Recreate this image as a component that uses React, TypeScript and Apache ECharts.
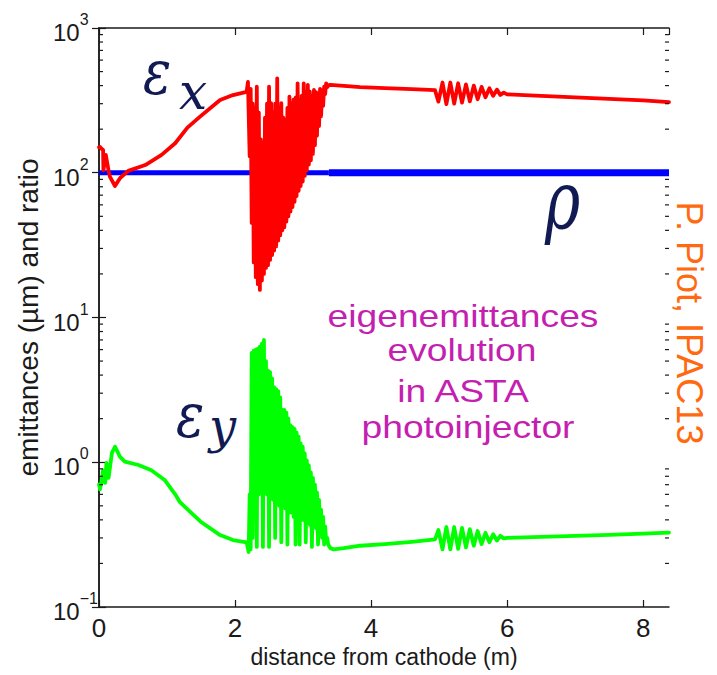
import React, { useEffect, useRef } from 'react';
import * as echarts from 'echarts';

const X_MAX = 8.38;
const Y_MIN = 0.1;
const Y_MAX = 1000;
const X_TICK_STEP = 2;
const MINOR_MANTISSAS = [2, 3, 4, 5, 6, 7, 8, 9];
const MINOR_DECADES = [0.1, 1, 10, 100];

// rho (ratio) — thin part and thick part
const rhoThin: number[][] = [[0, 100], [1.5, 100], [3.38, 100]];
const rhoThick: number[][] = [[3.38, 100], [6, 100], [8.38, 100]];

// epsilon_x (red)
const epsXStart: number[][] = [
  [0.0, 150], [0.015, 151], [0.04, 146], [0.06, 144], [0.065, 104], [0.1, 133], [0.14, 104],
  [0.16, 94], [0.235, 81], [0.31, 92], [0.43, 103], [0.68, 113], [0.92, 133], [1.12, 160],
  [1.3, 205], [1.49, 245], [1.78, 318], [1.97, 344], [2.17, 362], [2.19, 424],
];
const epsXOsc: number[][] = [
  [2.215, 130], [2.23, 380], [2.245, 45], [2.26, 300], [2.275, 24], [2.29, 280], [2.305, 19],
  [2.32, 393], [2.335, 17], [2.35, 260], [2.365, 15.5], [2.38, 170], [2.395, 18], [2.41, 160],
  [2.425, 20], [2.44, 240], [2.455, 22], [2.47, 300], [2.485, 23], [2.5, 393], [2.515, 25],
  [2.53, 302], [2.545, 27], [2.56, 260], [2.575, 29], [2.59, 300], [2.605, 31], [2.62, 449],
  [2.635, 34], [2.65, 280], [2.665, 37], [2.68, 302], [2.695, 40], [2.71, 240], [2.725, 42],
  [2.74, 231], [2.755, 46], [2.77, 280], [2.785, 50], [2.8, 336], [2.815, 54], [2.83, 300],
  [2.845, 58], [2.86, 320], [2.875, 63], [2.89, 330], [2.905, 69], [2.92, 415], [2.935, 75],
  [2.95, 318], [2.965, 81], [2.98, 340], [2.995, 87], [3.01, 415], [3.025, 95], [3.04, 360],
  [3.055, 104], [3.07, 404], [3.085, 114], [3.1, 363], [3.115, 122], [3.13, 340], [3.145, 135],
  [3.16, 373], [3.175, 155], [3.19, 360], [3.205, 180], [3.22, 354], [3.235, 210], [3.25, 380],
  [3.265, 245], [3.28, 370], [3.295, 290], [3.31, 393], [3.325, 350], [3.34, 415], [3.355, 390],
  [3.37, 400],
];
const epsXEnd: number[][] = [
  [3.4, 405], [3.6, 398], [3.84, 390], [4.2, 384], [4.6, 378], [4.94, 372], [4.99, 310],
  [5.05, 420], [5.107, 298], [5.165, 420], [5.222, 300], [5.28, 415], [5.337, 305], [5.395, 408],
  [5.452, 312], [5.51, 400], [5.567, 322], [5.625, 392], [5.682, 332], [5.74, 383], [5.795, 340],
  [5.85, 375], [5.9, 345], [5.95, 358], [6.0, 348], [6.5, 340], [7.0, 332], [7.5, 324],
  [8.0, 316], [8.38, 308],
];

// epsilon_y (green)
const epsYStart: number[][] = [
  [0.0, 0.7], [0.015, 0.65], [0.04, 0.75], [0.06, 0.88], [0.09, 0.72], [0.11, 0.99], [0.14, 0.78],
  [0.19, 1.16], [0.235, 1.28], [0.31, 1.09], [0.38, 1.01], [0.58, 0.957], [0.77, 0.88],
  [0.97, 0.75], [1.12, 0.6], [1.19, 0.53], [1.49, 0.39], [1.78, 0.314], [1.97, 0.29],
  [2.17, 0.28], [2.2, 0.24],
];
const epsYOsc: number[][] = [
  [2.215, 0.6], [2.23, 0.25], [2.245, 5.7], [2.26, 0.3], [2.275, 5.9], [2.29, 0.45], [2.305, 6.0],
  [2.32, 0.26], [2.335, 6.1], [2.35, 0.6], [2.365, 6.3], [2.38, 0.7], [2.395, 6.6], [2.41, 0.26],
  [2.425, 7.0], [2.44, 0.65], [2.455, 5.0], [2.47, 0.6], [2.485, 4.3], [2.5, 0.26], [2.515, 4.2],
  [2.53, 0.6], [2.545, 3.8], [2.56, 0.55], [2.575, 3.3], [2.59, 0.3], [2.605, 3.2], [2.62, 0.55],
  [2.635, 3.1], [2.65, 0.5], [2.665, 2.8], [2.68, 0.28], [2.695, 2.3], [2.71, 0.5], [2.725, 2.3],
  [2.74, 0.48], [2.755, 2.2], [2.77, 0.27], [2.785, 2.0], [2.8, 0.45], [2.815, 1.8], [2.83, 0.45],
  [2.845, 1.75], [2.86, 0.42], [2.875, 1.7], [2.89, 0.27], [2.905, 1.6], [2.92, 0.42], [2.935, 1.5],
  [2.95, 0.27], [2.965, 1.35], [2.98, 0.4], [2.995, 1.28], [3.01, 0.4], [3.025, 1.15], [3.04, 0.28],
  [3.055, 1.03], [3.07, 0.38], [3.085, 0.95], [3.1, 0.37], [3.115, 0.85], [3.13, 0.26],
  [3.145, 0.78], [3.16, 0.36], [3.175, 0.7], [3.19, 0.35], [3.205, 0.62], [3.22, 0.27],
  [3.235, 0.55], [3.25, 0.33], [3.265, 0.47], [3.28, 0.3], [3.295, 0.42], [3.31, 0.27],
  [3.325, 0.36], [3.34, 0.28], [3.355, 0.3], [3.37, 0.27],
];
const epsYEnd: number[][] = [
  [3.4, 0.255], [3.45, 0.25], [3.6, 0.255], [3.84, 0.265], [4.2, 0.272], [4.6, 0.282],
  [4.94, 0.293], [4.99, 0.34], [5.05, 0.25], [5.107, 0.357], [5.165, 0.25], [5.222, 0.357],
  [5.28, 0.252], [5.337, 0.352], [5.395, 0.258], [5.452, 0.345], [5.51, 0.265], [5.567, 0.335],
  [5.625, 0.272], [5.682, 0.325], [5.74, 0.28], [5.795, 0.318], [5.85, 0.288], [5.9, 0.31],
  [5.95, 0.298], [6.0, 0.3], [6.5, 0.305], [7.0, 0.31], [7.5, 0.315], [8.0, 0.321], [8.38, 0.326],
];

const epsX = [...epsXStart, ...epsXOsc, ...epsXEnd];
const epsY = [...epsYStart, ...epsYOsc, ...epsYEnd];

const Y_EXP_LABELS: Record<string, string> = { '-1': '−1', '0': '0', '1': '1', '2': '2', '3': '3' };

const SANS = '"Liberation Sans", Arial, Helvetica, sans-serif';
const SERIF = '"DejaVu Serif", "Liberation Serif", serif';
const NAVY = '#111a52';
const MAGENTA = '#c41fb0';
const ORANGE = '#ff6a10';

const minorTickData: number[][] = [];
MINOR_DECADES.forEach((d) => MINOR_MANTISSAS.forEach((m) => minorTickData.push([0, m * d])));

export default function App() {
  const ref = useRef<HTMLDivElement>(null);
  useEffect(() => {
    document.body.style.margin = '0';
    const chart = echarts.init(ref.current!, null, { renderer: 'svg' });
    const axisLineStyle = { color: '#1a1a1a', width: 1.5 };
    const xBase = {
      type: 'value' as const,
      min: 0,
      max: X_MAX,
      interval: X_TICK_STEP,
      splitLine: { show: false },
      axisLine: { show: true, lineStyle: axisLineStyle },
      axisTick: { show: true, inside: true, length: 7, lineStyle: { color: '#1a1a1a', width: 1.2 } },
    };
    const yBase = {
      type: 'log' as const,
      logBase: 10,
      min: Y_MIN,
      max: Y_MAX,
      splitLine: { show: false },
      axisLine: { show: true, lineStyle: axisLineStyle },
      axisTick: { show: true, inside: true, length: 7, lineStyle: { color: '#1a1a1a', width: 1.2 } },
    };
    const mathText = (x: number, y: number, text: string, size: number, sx = 1) => ({
      type: 'text', x, y, scaleX: sx,
      style: { text, fontFamily: SERIF, fontStyle: 'italic', fontSize: size, fill: NAVY, textAlign: 'left', textVerticalAlign: 'middle' },
    });
    const noteText = (x: number, y: number, text: string) => ({
      type: 'text', x, y, scaleX: 1.2,
      style: { text, fontFamily: SANS, fontSize: 31, fill: MAGENTA, textAlign: 'center', textVerticalAlign: 'middle' },
    });
    const option: any = {
      animation: false,
      backgroundColor: '#ffffff',
      grid: { left: 99, right: 48, top: 28, bottom: 68, containLabel: false },
      xAxis: [
        {
          ...xBase,
          position: 'bottom',
          name: 'distance from cathode (m)',
          nameLocation: 'middle',
          nameGap: 38,
          nameTextStyle: { fontFamily: SANS, fontSize: 23, color: '#1a1a1a' },
          axisLabel: {
            show: true,
            margin: 8,
            showMaxLabel: false,
            fontFamily: SANS,
            fontSize: 26,
            color: '#1a1a1a',
            formatter: (v: number) => (Math.abs(v % X_TICK_STEP) < 1e-9 ? String(v) : ''),
          },
        },
        { ...xBase, position: 'top', axisLabel: { show: false } },
      ],
      yAxis: [
        {
          ...yBase,
          position: 'left',
          name: 'emittances (µm) and ratio',
          nameLocation: 'middle',
          nameGap: 50,
          nameRotate: 90,
          nameTextStyle: { fontFamily: SANS, fontSize: 28, color: '#1a1a1a' },
          axisLabel: {
            show: true,
            margin: 46,
            align: 'left',
            formatter: (v: number) => {
              const e = String(Math.round(Math.log10(v)));
              return `{b|10}{s|${Y_EXP_LABELS[e]}}`;
            },
            rich: {
              b: { fontFamily: SANS, fontSize: 24, color: '#1a1a1a', verticalAlign: 'bottom', lineHeight: 33 },
              s: { fontFamily: SANS, fontSize: 16, color: '#1a1a1a', verticalAlign: 'top', lineHeight: 16 },
            },
          },
        },
        { ...yBase, position: 'right', axisLabel: { show: false } },
      ],
      series: [
        {
          type: 'line', name: 'rho', data: rhoThin, showSymbol: false, symbol: 'none',
          lineStyle: { color: '#0000ff', width: 5 }, z: 2,
        },
        {
          type: 'line', name: 'rho2', data: rhoThick, showSymbol: false, symbol: 'none',
          lineStyle: { color: '#0000ff', width: 7 }, z: 2,
        },
        {
          type: 'line', name: 'eps_x', data: epsX, showSymbol: false, symbol: 'none',
          lineStyle: { color: '#ff0000', width: 3.8, join: 'round', cap: 'round' }, z: 3,
        },
        {
          type: 'line', name: 'eps_y', data: epsY, showSymbol: false, symbol: 'none',
          lineStyle: { color: '#00ff00', width: 3.8, join: 'round', cap: 'round' }, z: 3,
        },
        {
          type: 'custom',
          name: 'minorTicks',
          silent: true,
          clip: false,
          data: minorTickData,
          encode: { x: 0, y: 1 },
          z: 5,
          renderItem: (_p: any, api: any) => {
            const v = api.value(1);
            const pl = api.coord([0, v]);
            const pr = api.coord([X_MAX, v]);
            const st = { stroke: '#1a1a1a', lineWidth: 1.2 };
            return {
              type: 'group',
              children: [
                { type: 'line', shape: { x1: pl[0], y1: pl[1], x2: pl[0] + 4, y2: pl[1] }, style: st },
                { type: 'line', shape: { x1: pr[0] - 4, y1: pr[1], x2: pr[0], y2: pr[1] }, style: st },
              ],
            };
          },
        },
      ],
      graphic: [
        mathText(143, 73, 'ε', 62, 0.85),
        mathText(179, 92, 'x', 50),
        mathText(176, 416, 'ε', 62, 0.85),
        mathText(209, 426, 'y', 48),
        mathText(545, 200, 'ρ', 80, 0.75),
        noteText(463, 316, 'eigenemittances'),
        noteText(462, 350, 'evolution'),
        noteText(463, 391, 'in ASTA'),
        noteText(468, 427, 'photoinjector'),
        { type: 'text', x: 689, y: 323, rotation: -Math.PI / 2, style: { text: 'P. Piot, IPAC13', fontFamily: SANS, fontSize: 36, fill: ORANGE, textAlign: 'center', textVerticalAlign: 'middle' } },
      ],
    };
    chart.setOption(option);
    return () => chart.dispose();
  }, []);
  return <div ref={ref} style={{ position: 'absolute', left: 0, top: 0, width: 717, height: 675 }} />;
}
